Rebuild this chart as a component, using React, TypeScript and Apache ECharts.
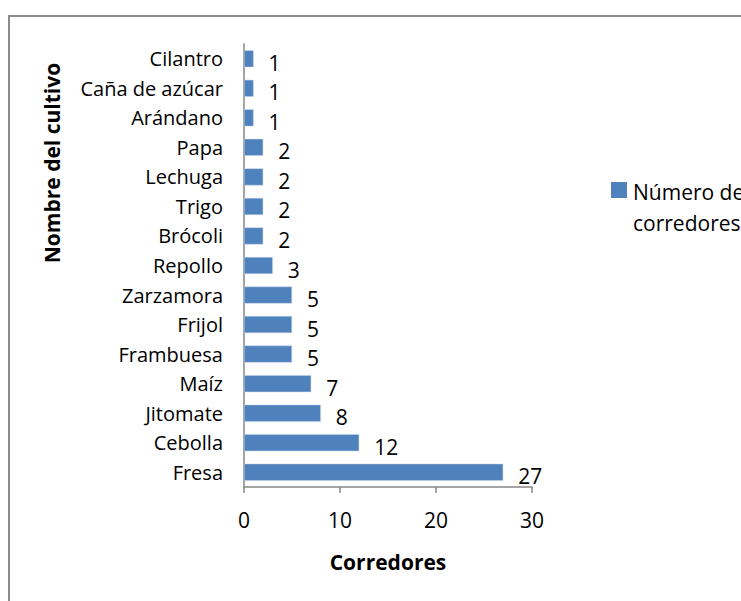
import React, { useEffect, useRef } from "react";
import * as echarts from "echarts";

const categories = [
  "Fresa", "Cebolla", "Jitomate", "Maíz", "Frambuesa", "Frijol", "Zarzamora",
  "Repollo", "Brócoli", "Trigo", "Lechuga", "Papa", "Arándano", "Caña de azúcar", "Cilantro",
];
const values = [27, 12, 8, 7, 5, 5, 5, 3, 2, 2, 2, 2, 1, 1, 1];
const seriesName = "Número de corredores";
const xTicks = [0, 10, 20, 30];
const xTitle = "Corredores";
const yTitle = "Nombre del cultivo";

const FONT = "'Open Sans', sans-serif";

export default function App() {
  const ref = useRef<HTMLDivElement>(null);
  useEffect(() => {
    if (!ref.current) return;
    const chart = echarts.init(ref.current, null, { renderer: "svg" });
    chart.setOption({
      animation: false,
      backgroundColor: "#ffffff",
      textStyle: { fontFamily: FONT },
      grid: { left: 244, top: 44, right: 209, bottom: 114 },
      xAxis: {
        type: "value",
        min: xTicks[0],
        max: xTicks[xTicks.length - 1],
        interval: 10,
        name: xTitle,
        nameLocation: "middle",
        nameGap: 75,
        nameTextStyle: { fontSize: 21, fontWeight: "bold", color: "#000", fontFamily: FONT, verticalAlign: "middle" },
        axisLine: { show: true, lineStyle: { color: "#868686", width: 1.5 } },
        axisTick: { show: true, length: 6, lineStyle: { color: "#868686", width: 1.5 } },
        axisLabel: { fontSize: 21, color: "#000", margin: 22, fontFamily: FONT },
        splitLine: { show: false },
      },
      yAxis: {
        type: "category",
        data: categories,
        axisLine: { show: true, lineStyle: { color: "#868686", width: 1.5 } },
        axisTick: { show: false },
        axisLabel: { fontSize: 20, color: "#000", margin: 21, fontFamily: FONT },
      },
      series: [
        {
          name: seriesName,
          type: "bar",
          data: values,
          barWidth: 17,
          itemStyle: { color: "#4F81BD", borderColor: "#c6d5ea", borderWidth: 0.5 },
          label: {
            show: true,
            position: "right",
            distance: 15,
            offset: [0, 4],
            fontSize: 21,
            color: "#000",
            fontFamily: FONT,
          },
        },
      ],
      graphic: [
        {
          type: "rect",
          shape: { x: 9, y: 16, width: 1000, height: 1000 },
          style: { fill: "none", stroke: "#8c8c8c", lineWidth: 2 },
          silent: true,
        },
        {
          type: "text",
          x: 52,
          y: 163,
          rotation: Math.PI / 2,
          style: {
            text: yTitle,
            fontSize: 21,
            fontWeight: "bold",
            fill: "#000",
            fontFamily: FONT,
            align: "center",
            verticalAlign: "middle",
          },
        },
        {
          type: "rect",
          shape: { x: 611, y: 182, width: 16, height: 16 },
          style: { fill: "#4F81BD" },
        },
        {
          type: "text",
          x: 633,
          y: 176,
          style: {
            text: "Número de\ncorredores",
            fontSize: 21,
            lineHeight: 31,
            fill: "#000",
            fontFamily: FONT,
            align: "left",
            verticalAlign: "top",
          },
        },
      ],
    });
    return () => chart.dispose();
  }, []);
  return (
    <div
      ref={ref}
      style={{ position: "fixed", left: 0, top: 0, width: 741, height: 601 }}
    />
  );
}
